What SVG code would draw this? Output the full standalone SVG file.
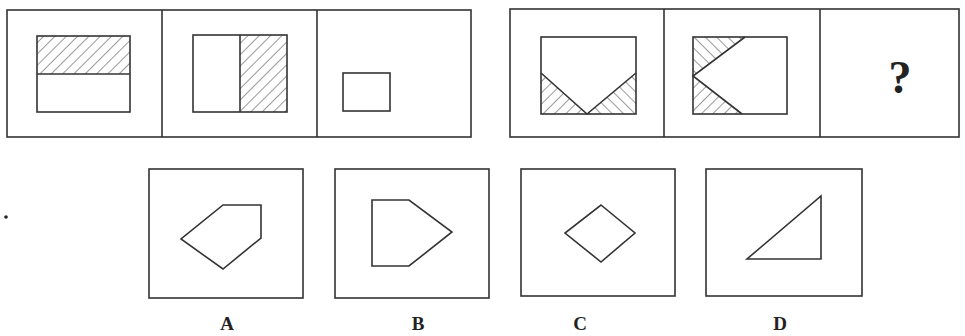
<svg xmlns="http://www.w3.org/2000/svg" width="965" height="336" viewBox="0 0 965 336">
<defs>
<pattern id="hf" patternUnits="userSpaceOnUse" width="8" height="8" patternTransform="rotate(45)"><line x1="0" y1="0" x2="0" y2="8" stroke="#555" stroke-width="1.2"/></pattern>
<pattern id="hb" patternUnits="userSpaceOnUse" width="8" height="8" patternTransform="rotate(-45)"><line x1="0" y1="0" x2="0" y2="8" stroke="#555" stroke-width="1.2"/></pattern>
</defs>
<style>
.f{fill:none;stroke:#333;stroke-width:1.6;stroke-linejoin:miter}
.w{fill:#fff;stroke:#333;stroke-width:1.6}
.lbl{font-family:"Liberation Serif",serif;font-size:19px;font-weight:bold;fill:#222;text-anchor:middle}
</style>
<rect width="965" height="336" fill="#fff"/>
<g id="row1">
<rect class="f" x="7" y="10" width="464" height="127"/>
<line class="f" x1="162" y1="10" x2="162" y2="137"/>
<line class="f" x1="317" y1="10" x2="317" y2="137"/>
</g>
<g id="p1">
<rect x="37" y="36" width="93" height="38" fill="url(#hf)"/>
<rect class="f" x="37" y="36" width="93" height="76"/>
<line class="f" x1="37" y1="74" x2="130" y2="74"/>
</g>
<g id="p2">
<rect x="240" y="35" width="47" height="77" fill="url(#hf)"/>
<rect class="f" x="193" y="35" width="94" height="77"/>
<line class="f" x1="240" y1="35" x2="240" y2="112"/>
</g>
<g id="p3">
<rect class="f" x="343" y="73" width="47" height="38"/>
</g>
<g id="row2">
<rect class="f" x="510" y="9" width="449" height="128"/>
<line class="f" x1="664" y1="9" x2="664" y2="137"/>
<line class="f" x1="820" y1="9" x2="820" y2="137"/>
</g>
<g id="p4">
<polygon points="541,73 541,114 587,114" fill="url(#hf)"/>
<polygon points="587,114 636,114 636,73" fill="url(#hb)"/>
<rect class="f" x="541" y="37" width="95" height="77"/>
<polyline class="f" points="541,73 587,114 636,73"/>
</g>
<g id="p5">
<polygon points="693,37 745,37 693,76" fill="url(#hb)"/>
<polygon points="693,76 693,114 742,114" fill="url(#hf)"/>
<rect class="f" x="693" y="37" width="94" height="77"/>
<polyline class="f" points="745,37 693,76 742,114"/>
</g>
<g id="p6">
<text x="900" y="93" style="font-family:'Liberation Serif',serif;font-size:46px;font-weight:bold;fill:#222;text-anchor:middle">?</text>
</g>
<circle cx="6" cy="217" r="1.8" fill="#222"/>
<g id="optA">
<rect class="f" x="149" y="169" width="154" height="129"/>
<polygon class="f" points="223,205 261,205 261,238 223,269 181,239"/>
<text class="lbl" x="227" y="330">A</text>
</g>
<g id="optB">
<rect class="f" x="335" y="169" width="154" height="129"/>
<polygon class="f" points="372,200 409,200 452,232 409,266 372,266"/>
<text class="lbl" x="418" y="330">B</text>
</g>
<g id="optC">
<rect class="f" x="521" y="169" width="154" height="127"/>
<polygon class="f" points="601,205 635,233 601,262 565,233"/>
<text class="lbl" x="580" y="330">C</text>
</g>
<g id="optD">
<rect class="f" x="706" y="169" width="156" height="127"/>
<polygon class="f" points="821,196 821,259 747,259"/>
<text class="lbl" x="780" y="330">D</text>
</g>
</svg>
